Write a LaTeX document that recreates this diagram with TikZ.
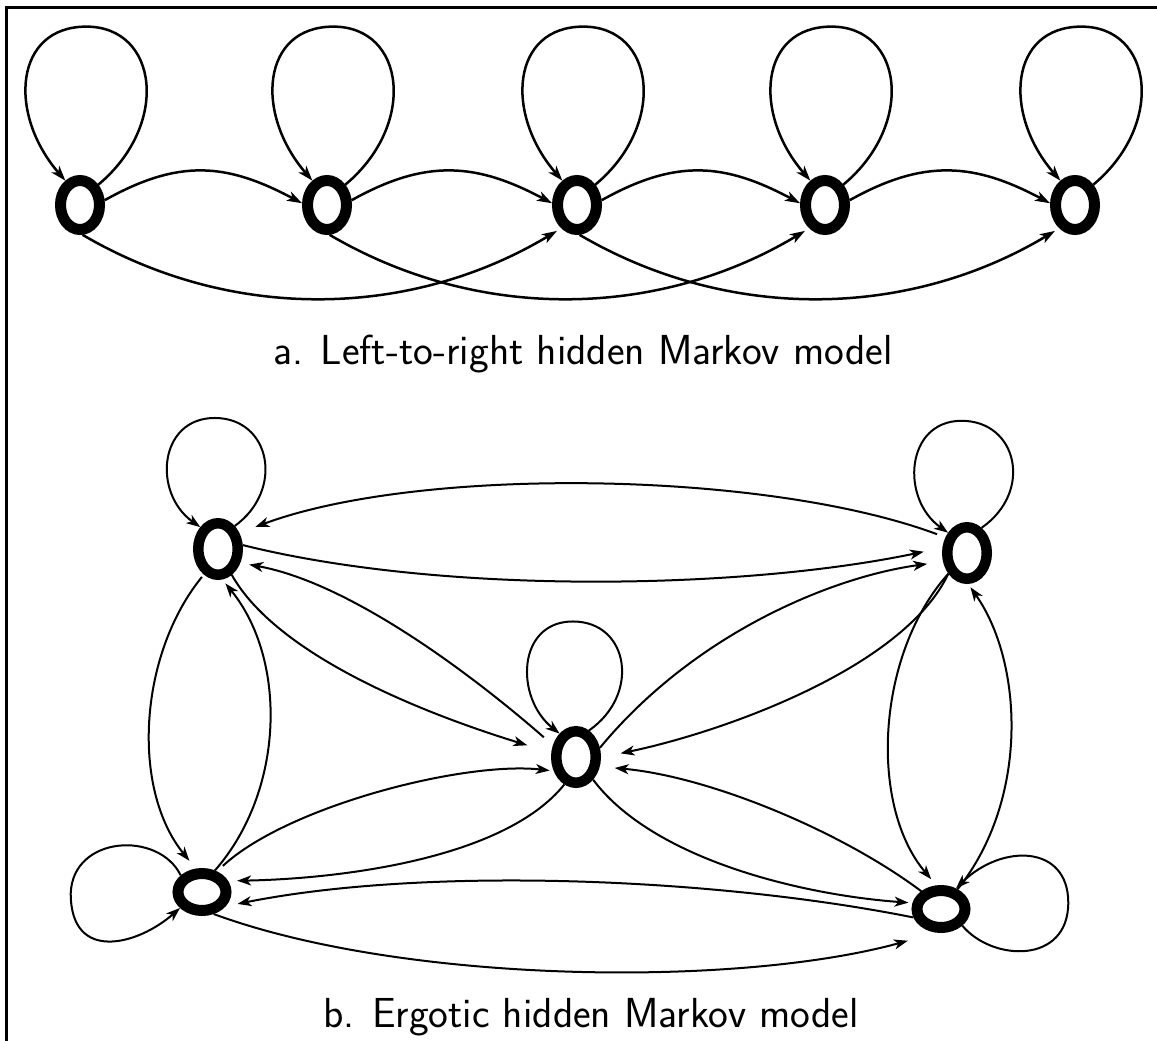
\documentclass[tikz,border=0pt]{standalone}
\usepackage{fontspec}
\usepackage{graphicx}
\usetikzlibrary{arrows.meta,shapes.geometric}

\tikzset{
  tstate/.style={ellipse, draw, line width=11pt, minimum width=39pt, minimum height=49pt, inner sep=0pt},
  estate/.style={ellipse, draw, line width=10.5pt, minimum width=39.5pt, minimum height=51.5pt, inner sep=0pt},
  flatstate/.style={ellipse, draw, line width=11pt, minimum width=48pt, minimum height=37pt, inner sep=0pt},
  tedge/.style={line width=2.5pt, -{Stealth[length=15pt,width=10pt,inset=4pt]}},
  bedge/.style={line width=2pt, -{Stealth[length=14pt,width=10pt,inset=4pt]}},
  caption/.style={font=\sffamily\fontsize{42}{48}\selectfont, anchor=base, inner sep=0pt},
}

\begin{document}
\begin{tikzpicture}[x=1pt,y=-1pt]
\useasboundingbox (0,0) rectangle (1157,1041);

% frame along the top and left
\draw[line width=3pt] (6,1041) -- (6,8) -- (1157,8);

% ---- a. left-to-right model ----
\node[tstate] (n1) at (80,205) {};
\node[tstate] (n2) at (327,205) {};
\node[tstate] (n3) at (577,205) {};
\node[tstate] (n4) at (825,205) {};
\node[tstate] (n5) at (1075,205) {};

\foreach \i in {1,...,5}
  \draw[tedge] (n\i.48) .. controls +(72,-60) and +(72,0) .. ++(-12,-158)
               .. controls +(-72,0) and +(-58,-67) .. (n\i.121);

\foreach \i/\j in {1/2,2/3,3/4,4/5}
  \draw[tedge] (n\i.11) .. controls +(75,-42) and +(-75,-40) .. (n\j.176);

\foreach \i/\j in {1/3,2/4,3/5}
  \draw[tedge, shorten >=5pt] (n\i.275) .. controls +(150,88) and +(-150,90) .. (n\j.236);

\node[caption] (capa) at (583,364) {a. Left-to-right hidden Markov model};

% ---- b. ergodic model ----
\node[estate] (A) at (218,549) {};
\node[estate] (B) at (967,553) {};
\node[estate] (C) at (576,757) {};
\node[flatstate] (D) at (202,892) {};
\node[flatstate] (E) at (941,909) {};

% self loops
\draw[bedge] (A.54) .. controls +(50,-36) and +(56,0) .. ++(-20,-108)
             .. controls +(-56,0) and +(-48,-34) .. (A.129);
\draw[bedge] (B.60) .. controls +(52,-36) and +(56,0) .. ++(-20,-107)
             .. controls +(-56,0) and +(-48,-34) .. (B.133);
\draw[bedge] (C.64) .. controls +(52,-36) and +(56,0) .. ++(-16,-109)
             .. controls +(-56,0) and +(-45,-36) .. (C.125);
\draw[bedge] (D.142) .. controls +(-22,-45) and +(2,-58) .. ++(-110,18)
             .. controls +(0,70) and +(-42,37) .. (D.216);
\draw[bedge] (E.322) .. controls +(30,36) and +(0,62) .. ++(106,-23)
             .. controls +(0,-58) and +(46,-45) .. (E.54);

% transitions
\draw[bedge, shorten <=9pt, shorten >=17pt] (B.144) .. controls +(-180,-67) and +(180,-67) .. (A.37);
\draw[bedge, shorten >=19pt] (A.9) .. controls +(200,50) and +(-200,42) .. (B.168);
\draw[bedge, shorten <=3pt, shorten >=10pt] (A.241) .. controls +(-65,80) and +(-65,-80) .. (D.105);
\draw[bedge, shorten >=5pt] (D.59) .. controls +(70,-80) and +(65,80) .. (A.278);
\draw[bedge, shorten >=8pt] (B.228) .. controls +(-72,80) and +(-68,-80) .. (E.101);
\draw[bedge, shorten >=4pt] (E.50) .. controls +(72,-90) and +(55,78) .. (B.272);
\draw[bedge, shorten >=25pt] (A.298) .. controls +(45,80) and +(-130,-40) .. (C.170);
\draw[bedge, shorten <=12pt, shorten >=9pt] (C.153) .. controls +(-80,-70) and +(110,20) .. (A.328);
\draw[bedge, shorten >=16pt] (C.21) .. controls +(95,-115) and +(-110,15) .. (B.200);
\draw[bedge, shorten >=20pt] (B.228) .. controls +(-45,95) and +(120,-25) .. (C.359);
\draw[bedge, shorten <=8pt, shorten >=4pt] (D.54) .. controls +(70,-65) and +(-90,-10) .. (C.212);
\draw[bedge, shorten >=9pt] (C.247) .. controls +(-60,75) and +(110,-2) .. (D.23);
\draw[bedge, shorten >=4pt] (C.307) .. controls +(60,80) and +(-110,-8) .. (E.168);
\draw[bedge, shorten >=15pt] (E.138) .. controls +(-80,-60) and +(110,10) .. (C.338);
\draw[bedge, shorten >=12pt] (E.197) .. controls +(-200,-40) and +(200,-40) .. (D.329);
\draw[bedge, shorten >=30pt] (D.298) .. controls +(190,70) and +(-200,55) .. (E.260);

\node[caption] (capb) at (591,1027) {b. Ergotic hidden Markov model};
\end{tikzpicture}
\end{document}
